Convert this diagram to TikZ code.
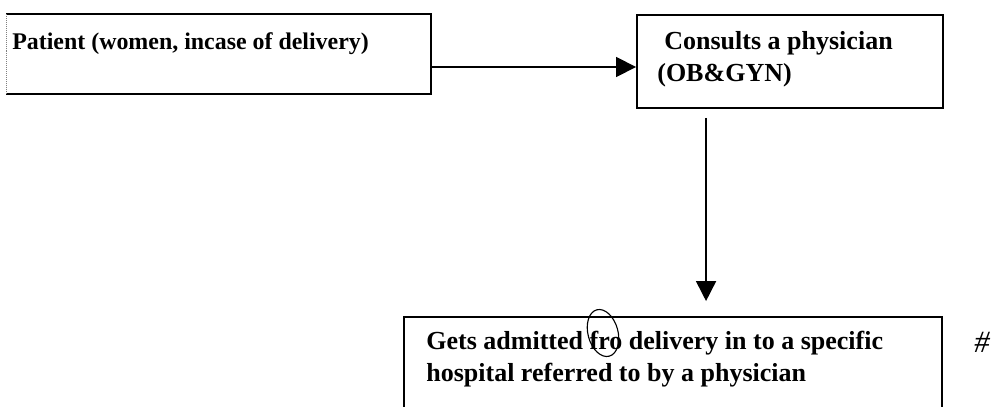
\documentclass[tikz,border=0pt]{standalone}
\usepackage{fontspec}
\setmainfont{Liberation Serif}
\usetikzlibrary{arrows.meta,calc}

\tikzset{
	box/.style={draw, line width=1.3pt, inner sep=0pt},
	lbl/.style={anchor=north west, inner sep=0pt, align=left,
		font=\fontsize{18.5}{22.8}\selectfont\bfseries},
	flow/.style={line width=1.2pt, -{Triangle[length=0.5cm,width=0.5cm]}}
}

\begin{document}
\begin{tikzpicture}[x=0.025cm,y=-0.025cm]
	\useasboundingbox (0,0) rectangle (998,407);

	% Draw the boxes
	\node[box, draw=none, minimum width=10.575cm, minimum height=1.95cm] (patient) at (218.5,54) {};
	\draw[line width=1.6pt] (patient.north west) -- (patient.north east)
		-- (patient.south east) -- (patient.south west);
	\draw[gray, densely dotted, thin] (patient.north west) -- (patient.south west);
	\node[box, minimum width=7.65cm, minimum height=2.325cm] (consult) at (790,61.5) {};
	\node[box, minimum width=13.45cm, minimum height=2.6cm] (admit) at (673,369) {};

	% Label the boxes
	\node[lbl, font=\fontsize{17}{20.6}\selectfont\bfseries] (patientText)
		at ($(patient.north west)+(6,18)$) {Patient (women, incase of delivery)};
	\node[lbl] (consultText) at ($(consult.north west)+(21,17)$)
		{\hspace*{0.175cm}Consults a physician\\(OB\&GYN)};
	\node[lbl] (admitText) at ($(admit.north west)+(23,15)$)
		{Gets admitted fro delivery in to a specific\\hospital referred to by a physician};

	% Draw the arrows
	\draw[flow] ($(patient.east)+(0,13)$) -- ($(consult.west)+(0,5.5)$);
	\draw[flow, shorten <=0.225cm, shorten >=0.375cm]
		($(consult.south west)+(70,0)$) -- ($(consult.south west |- admit.north)+(70,0)$);

	% Mark the correction
	\draw[line width=0.8pt] (603,333) ellipse [x radius=15, y radius=24, rotate=15];
	\node[font=\fontsize{22}{22}\selectfont\itshape] (hash) at (982,342) {\#};
\end{tikzpicture}
\end{document}
